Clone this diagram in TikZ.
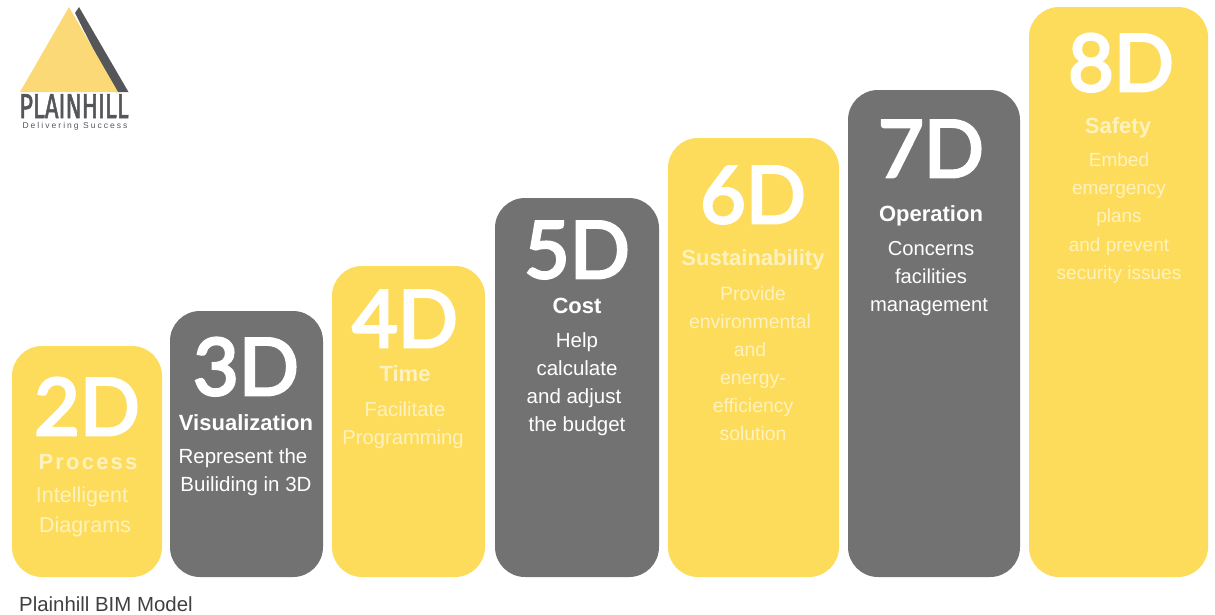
\documentclass[tikz,border=0pt]{standalone}
\usepackage{fontspec}
\setmainfont{Liberation Sans}
\newfontfamily\numfont[FakeBold=3.5]{Lato}
\newfontfamily\spacedfont[LetterSpace=10]{Liberation Sans}
\newfontfamily\logofont[FakeBold=2]{Fira Sans}
\newfontfamily\taglinefont[LetterSpace=24]{Liberation Sans}
\definecolor{barYellow}{HTML}{FDDC5C}
\definecolor{barGrey}{HTML}{727272}
\definecolor{logoYellow}{HTML}{FBD976}
\definecolor{logoGrey}{HTML}{54565A}
\definecolor{softWhite}{HTML}{FFF2BE}
\tikzset{
	yellowbar/.style={fill=barYellow, rounded corners=30pt},
	greybar/.style={fill=barGrey, rounded corners=30pt},
	bignum/.style={anchor=base, text=white, font=\fontsize{79}{79}\selectfont\numfont},
	headY/.style={anchor=base, text=softWhite, font=\fontsize{22}{22}\selectfont\bfseries},
	headG/.style={anchor=base, text=white, font=\fontsize{22}{22}\selectfont\bfseries},
	bodyY/.style={anchor=base, text=softWhite, font=\fontsize{#1}{#1}\selectfont},
	bodyY/.default=19.4,
	bodyG/.style={anchor=base, text=white, font=\fontsize{#1}{#1}\selectfont},
	bodyG/.default=20.5
}

\begin{document}
\begin{tikzpicture}[x=1pt, y=-1pt, inner sep=0pt]
		\useasboundingbox (0, 0) rectangle (1215, 614);
		%%%%% LOGO %%%%%
		\fill[logoGrey] (79, 7) -- (128.5, 92) -- (115, 92) -- (75, 13) -- cycle;
		\fill[logoYellow] (69, 7) -- (118, 92) -- (20, 92) -- cycle;
		\node[anchor=base, text=logoGrey] (logoname) at (74, 118) {\scalebox{0.69}[1]{\fontsize{34.5}{34.5}\selectfont\logofont PLAINHILL}};
		\node[anchor=base, text=logoGrey] (logotag) at (75, 128.5) {\fontsize{8.5}{8.5}\selectfont\taglinefont Delivering Success};

		%%%%% BARS %%%%%
		\fill[yellowbar] (12, 346) rectangle (162, 577);
		\fill[greybar] (170, 311) rectangle (323, 577);
		\fill[yellowbar] (332, 266) rectangle (485, 577);
		\fill[greybar] (495, 198) rectangle (659, 577);
		\fill[yellowbar] (668, 138) rectangle (839, 577);
		\fill[greybar] (848, 90) rectangle (1020, 577);
		\fill[yellowbar] (1029, 7) rectangle (1208, 577);

		%%%%% 2D %%%%%
		\node[bignum] (num2d) at (87, 435) {2D};
		\node[headY, font=\fontsize{22}{22}\selectfont\spacedfont\bfseries] (head2d) at (88, 469) {Process};
		\node[bodyY=21.5] (body2da) at (82, 502) {Intelligent};
		\node[bodyY=21.5] (body2db) at (85, 532) {Diagrams};

		%%%%% 3D %%%%%
		\node[bignum] (num3d) at (246, 395) {3D};
		\node[headG] (head3d) at (246, 430) {Visualization};
		\node[bodyG] (body3da) at (243, 463) {Represent the};
		\node[bodyG] (body3db) at (246, 491) {Builiding in 3D};

		%%%%% 4D %%%%%
		\node[bignum] (num4d) at (405, 347) {4D};
		\node[headY] (head4d) at (405, 381) {Time};
		\node[bodyY=20.2] (body4da) at (405, 416) {Facilitate};
		\node[bodyY=20.2] (body4db) at (403, 444) {Programming};

		%%%%% 5D %%%%%
		\node[bignum] (num5d) at (577, 278) {5D};
		\node[headG] (head5d) at (577, 313) {Cost};
		\node[bodyG] (body5da) at (577, 347) {Help};
		\node[bodyG] (body5db) at (577, 375) {calculate};
		\node[bodyG] (body5dc) at (574, 403) {and adjust};
		\node[bodyG] (body5dd) at (577, 431) {the budget};

		%%%%% 6D %%%%%
		\node[bignum] (num6d) at (753, 223) {6D};
		\node[headY] (head6d) at (753, 265) {Sustainability};
		\node[bodyY] (body6da) at (753, 300) {Provide};
		\node[bodyY] (body6db) at (750, 328) {environmental};
		\node[bodyY] (body6dc) at (750, 356) {and};
		\node[bodyY] (body6dd) at (753, 384) {energy-};
		\node[bodyY] (body6de) at (753, 412) {efficiency};
		\node[bodyY] (body6df) at (753, 440) {solution};

		%%%%% 7D %%%%%
		\node[bignum] (num7d) at (931, 177) {7D};
		\node[headG] (head7d) at (931, 221) {Operation};
		\node[bodyG=20.2] (body7da) at (931, 255) {Concerns};
		\node[bodyG=20.2] (body7db) at (931, 283) {facilities};
		\node[bodyG=20.2] (body7dc) at (929, 311) {management};

		%%%%% 8D %%%%%
		\node[bignum] (num8d) at (1121, 91) {8D};
		\node[headY] (head8d) at (1118, 133) {Safety};
		\node[bodyY=19] (body8da) at (1119, 166) {Embed};
		\node[bodyY=19] (body8db) at (1119, 194) {emergency};
		\node[bodyY=19] (body8dc) at (1119, 222) {plans};
		\node[bodyY=19] (body8dd) at (1119, 251) {and prevent};
		\node[bodyY=19] (body8de) at (1119, 279) {security issues};

		\node[anchor=base west, text=black!75, font=\fontsize{20.4}{20.4}\selectfont] (caption) at (19, 611) {Plainhill BIM Model};
	\end{tikzpicture}
\end{document}
